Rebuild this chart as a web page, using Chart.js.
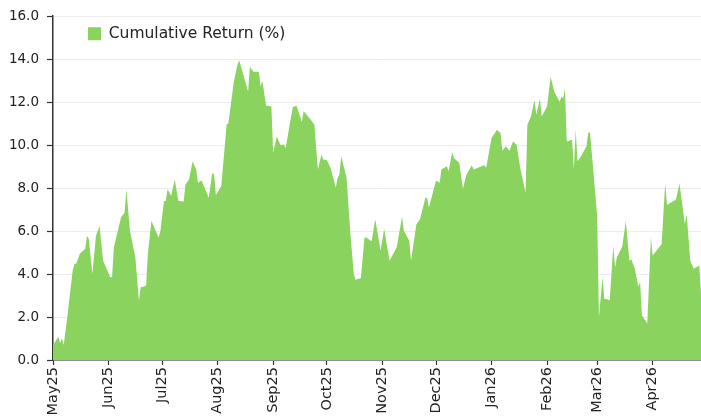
<!DOCTYPE html>
<html>
<head>
<meta charset="utf-8">
<script src="https://cdn.jsdelivr.net/npm/chart.js@4/dist/chart.umd.min.js"></script>
<style>
html,body{margin:0;padding:0;background:#ffffff;}
#wrap{width:701px;height:419px;}
</style>
</head>
<body>
<div id="wrap"><canvas id="c" width="701" height="419"></canvas></div>
<script>
// ---------- data ----------
const seriesName = 'Cumulative Return (%)';
const startDate = '2025-05-01';
// days since startDate
const dayOffsets = [
  0,3,4,5,6,8,11,12,13,15,18,19,20,22,24,26,28,32,33,34,38,40,41,43,46,48,49,51,52,53,55,59,60,
  62,63,64,66,68,70,73,74,76,78,80,81,83,87,89,90,91,94,97,98,101,103,104,109,110,112,115,116,117,119,122,
  123,125,127,129,130,133,134,136,139,140,144,146,148,150,151,153,155,158,159,160,161,164,166,168,169,172,
  174,175,178,180,183,185,188,192,195,196,199,200,203,205,207,208,209,210,214,216,217,220,221,223,224,227,
  229,231,234,235,238,241,242,245,248,250,251,253,255,257,259,261,264,265,267,269,270,272,273,276,278,280,
  283,284,285,286,287,290,291,292,293,295,298,299,300,304,305,307,308,310,311,313,314,315,318,320,322,323,
  325,327,328,329,332,334,335,340,342,343,348,350,353,354,356,358,360,361,362
];
const cumulativeReturn = [
  0.69,1.08,0.78,1.00,0.70,2.00,4.16,4.48,4.48,4.94,5.18,5.78,5.63,4.00,5.78,6.24,4.62,3.85,3.85,5.24,6.63,6.86,7.94,6.00,4.78,2.77,3.39,3.42,3.47,4.94,6.47,5.70,6.00,
  7.40,7.40,7.94,7.63,8.40,7.40,7.37,8.17,8.40,9.25,8.86,8.25,8.35,7.55,8.71,8.63,7.68,8.09,10.94,11.02,12.95,13.72,13.95,12.49,13.64,13.41,13.41,12.72,12.98,11.84,11.79,
  9.63,10.40,10.02,10.02,9.86,11.33,11.76,11.84,11.07,11.59,11.18,10.94,8.86,9.56,9.33,9.30,8.94,8.02,8.48,8.63,9.48,8.48,6.01,4.01,3.73,3.82,
  5.70,5.70,5.52,6.55,5.09,6.09,4.62,5.24,6.66,6.01,5.55,4.62,6.32,6.55,7.20,7.55,7.55,7.09,8.35,8.25,8.86,9.02,8.79,9.68,9.40,9.17,
  7.98,8.63,9.06,8.86,8.97,9.06,8.94,10.33,10.71,10.56,9.74,9.94,9.74,10.17,10.02,8.94,7.78,10.94,11.33,12.10,11.41,12.15,11.33,11.79,13.18,12.49,
  12.02,12.25,12.18,12.61,10.17,10.25,8.86,10.71,9.25,9.48,9.94,10.56,10.60,6.71,2.00,3.85,2.85,2.81,2.77,5.32,4.31,4.78,5.27,6.47,4.62,4.70,
  4.24,3.42,3.62,2.08,1.70,5.70,4.86,5.39,8.25,7.21,7.47,8.20,6.32,6.78,4.62,4.24,4.35,4.40,3.10
];
const monthTickDates = ['2025-05-01','2025-06-01','2025-07-01','2025-08-01','2025-09-01','2025-10-01',
  '2025-11-01','2025-12-01','2026-01-01','2026-02-01','2026-03-01','2026-04-01'];
const monthTickLabels = ['May25','Jun25','Jul25','Aug25','Sep25','Oct25','Nov25','Dec25','Jan26','Feb26','Mar26','Apr26'];
const yMin = 0, yMax = 16, yStep = 2;

// ---------- build ----------
const DAY = 86400000;
const t0 = Date.parse(startDate + 'T00:00:00Z');
const monthTickOffsets = monthTickDates.map(d => Math.round((Date.parse(d + 'T00:00:00Z') - t0) / DAY));
const points = dayOffsets.map((d, i) => ({x: d, y: cumulativeReturn[i]}));

const GREEN = '#8ad35e';
const AXIS = '#333333';
const TEXT = '#222222';
const FONT = 'DejaVu Sans';

const legendShift = {
  id: 'legendShift',
  afterLayout(chart) {
    if (chart.legend) { chart.legend.left += 25; chart.legend.top += 16; }
  }
};

new Chart(document.getElementById('c'), {
  type: 'line',
  data: {
    datasets: [{
      label: seriesName,
      data: points,
      fill: 'origin',
      backgroundColor: GREEN,
      borderColor: GREEN,
      borderWidth: 0,
      pointRadius: 0,
      tension: 0
    }]
  },
  options: {
    responsive: false,
    animation: false,
    devicePixelRatio: 1,
    layout: { padding: { top: 14, right: 0, bottom: 0, left: 0 } },
    plugins: {
      legend: {
        position: 'chartArea',
        align: 'start',
        labels: {
          boxWidth: 13, boxHeight: 13, padding: 10,
          color: TEXT,
          font: { family: FONT, size: 15.5 }
        }
      },
      tooltip: { enabled: false }
    },
    scales: {
      x: {
        type: 'linear',
        min: dayOffsets[0],
        max: dayOffsets[dayOffsets.length - 1],
        afterBuildTicks(scale) { scale.ticks = monthTickOffsets.map(v => ({value: v})); },
        afterFit(scale) { scale.height = 59; },
        ticks: {
          autoSkip: false, minRotation: 90, maxRotation: 90, padding: 2,
          color: TEXT, font: { family: FONT, size: 14.5 },
          callback(v) { const i = monthTickOffsets.indexOf(v); return i >= 0 ? monthTickLabels[i] : ''; }
        },
        grid: { display: true, drawOnChartArea: false, drawTicks: true, tickLength: 5, tickColor: AXIS, tickWidth: 1.2 },
        border: { display: true, color: AXIS, width: 1.5 }
      },
      y: {
        min: yMin, max: yMax,
        afterFit(scale) { scale.width = 53; },
        ticks: {
          stepSize: yStep, padding: 8,
          color: TEXT, font: { family: FONT, size: 13.5 },
          callback(v) { return Number(v).toFixed(1); }
        },
        grid: { color: '#ececec', lineWidth: 1, drawTicks: true, tickLength: 6, tickColor: AXIS, tickWidth: 1.2 },
        border: { display: true, color: AXIS, width: 1.5 }
      }
    }
  },
  plugins: [legendShift]
});
</script>
</body>
</html>
